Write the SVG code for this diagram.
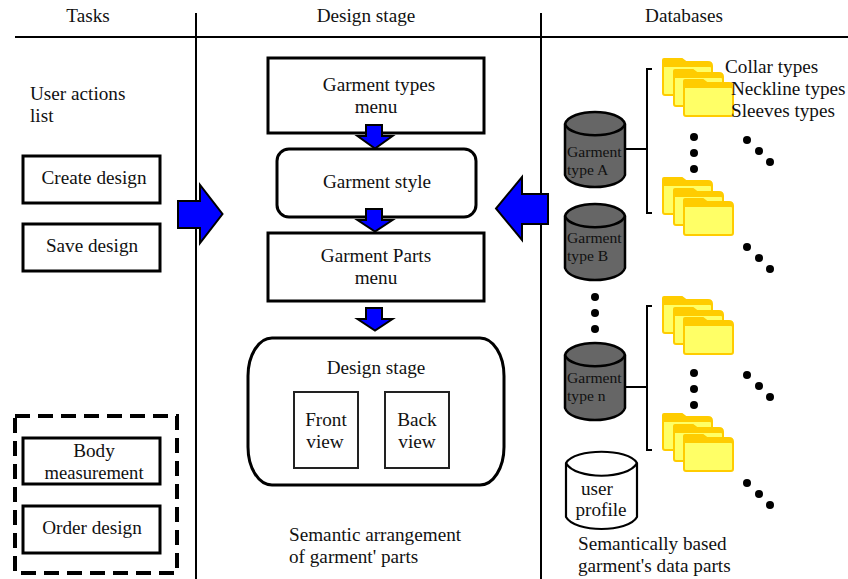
<svg xmlns="http://www.w3.org/2000/svg" xmlns:xlink="http://www.w3.org/1999/xlink" width="848" height="579" viewBox="0 0 848 579">
<style>
text{font-family:"Liberation Serif","Times New Roman",serif;font-size:19.2px;fill:#111;text-anchor:middle}
.s{font-size:15.6px;text-anchor:start}
.l{text-anchor:start}
.m{font-size:18.6px}
.b{fill:#fff;stroke:#000;stroke-width:3}
.v{fill:#fff;stroke:#222;stroke-width:2}
.a{fill:#00f;stroke:#000;stroke-width:2;stroke-linejoin:miter}
.ln{stroke:#000;stroke-width:2;fill:none}
.db{fill:#666;stroke:#000;stroke-width:2.5}
.dbw{fill:#fff;stroke:#000;stroke-width:2.2}
.f1{fill:#fc0;stroke:#fc0;stroke-width:2}
.f2{fill:#ff6;stroke:#fc0;stroke-width:2}
</style>
<defs>
<g id="folder">
<path class="f1" d="M1 12V2Q1 1 2 1H20L24 4H46Q50 4 50 8V14H1Z"/>
<path class="f2" d="M1 8H48Q50 8 50 10V35Q50 37 48 37H3Q1 37 1 35Z"/>
</g>
<g id="stack">
<use xlink:href="#folder" x="0" y="0"/>
<use xlink:href="#folder" x="11" y="11"/>
<use xlink:href="#folder" x="21" y="21"/>
</g>
<g id="d3"><circle cx="0" cy="0" r="4"/><circle cx="12" cy="11" r="4"/><circle cx="23" cy="22" r="4"/></g>
<g id="v3"><circle cx="0" cy="0" r="4"/><circle cx="0" cy="16" r="4"/><circle cx="0" cy="32" r="4"/></g>
</defs>
<g id="connectors">
<path class="ln" d="M15 37H848M196 13V579M541 13V579"/>
<path class="ln" d="M652 69H647V213H652M626 149H647M652 306H647V450H652M626 387H647"/>
</g>
<g fill="#000" id="dots">
<use xlink:href="#v3" x="694" y="137"/>
<use xlink:href="#d3" x="747" y="140"/>
<use xlink:href="#d3" x="747" y="247"/>
<use xlink:href="#v3" x="595" y="297"/>
<use xlink:href="#v3" x="694" y="373"/>
<use xlink:href="#d3" x="747" y="375"/>
<use xlink:href="#d3" x="747" y="483"/>
</g>
<g id="headers">
<text x="88" y="22">Tasks</text>
<text x="366" y="22">Design stage</text>
<text x="684" y="22">Databases</text>
<text x="30" y="100" class="l">User actions</text>
<text x="30" y="122" class="l">list</text>
<text x="289" y="541" class="l">Semantic arrangement</text>
<text x="289" y="563" class="l">of garment' parts</text>
<text x="578" y="550" class="l">Semantically based</text>
<text x="578" y="572" class="l">garment's data parts</text>
</g>
<g id="create"><rect class="b" x="23" y="156" width="137" height="47"/><text x="94" y="184">Create design</text></g>
<g id="save"><rect class="b" x="23" y="224" width="137" height="47"/><text x="92" y="252">Save design</text></g>
<g id="optional"><rect x="15" y="416" width="162" height="157" fill="none" stroke="#000" stroke-width="4" stroke-dasharray="15 8"/></g>
<g id="body"><rect class="b" x="23" y="438" width="137" height="46"/><text x="94" y="457">Body</text><text class="m" x="94" y="479">measurement</text></g>
<g id="order"><rect class="b" x="23" y="506" width="137" height="47"/><text x="92" y="534">Order design</text></g>
<g id="types"><rect class="b" x="268" y="58" width="216" height="75"/><text x="379" y="91">Garment types</text><text x="376" y="113">menu</text></g>
<g id="style"><rect class="b" x="277" y="149" width="199" height="68" rx="12"/><text x="377" y="188">Garment style</text></g>
<g id="parts"><rect class="b" x="268" y="233" width="216" height="68"/><text x="376" y="262">Garment Parts</text><text x="376" y="284">menu</text></g>
<g id="stage"><rect class="b" x="248" y="338" width="256" height="147" rx="24" ry="38"/><text x="376" y="374">Design stage</text></g>
<g id="front"><rect class="v" x="294" y="392" width="64" height="76"/><text x="326" y="426">Front</text><text x="325" y="448">view</text></g>
<g id="back"><rect class="v" x="385" y="392" width="64" height="76"/><text x="417" y="426">Back</text><text x="417" y="448">view</text></g>
<g id="arrows">
<path class="a" d="M366 125H382V136H392.500L375 148.500L357.500 136H366Z"/>
<path class="a" d="M366 209H382V220H392.500L375 231.500L357.500 220H366Z"/>
<path class="a" d="M366 308H382V319H392.500L375 330.500L357.500 319H366Z"/>
<path class="a" d="M178 201H200V185L222.500 214L200 243V228H178Z"/>
<path class="a" d="M548 194H522V177L496 208.500L522 240V224H548Z"/>
</g>
<g id="dbA"><path class="db" d="M565 124C570 108 620 108 625 124V175C620 191 570 191 565 175Z"/><path class="db" d="M565 124C570 139 620 139 625 124"/><text class="s" x="567" y="157">Garment</text><text class="s" x="567" y="175">type A</text></g>
<g id="dbB"><path class="db" d="M565 216C570 200 620 200 625 216V268C620 284 570 284 565 268Z"/><path class="db" d="M565 216C570 231 620 231 625 216"/><text class="s" x="567" y="243">Garment</text><text class="s" x="567" y="261">type B</text></g>
<g id="dbN"><path class="db" d="M565 355C570 339 620 339 625 355V408C620 424 570 424 565 408Z"/><path class="db" d="M565 355C570 370 620 370 625 355"/><text class="s" x="567" y="383">Garment</text><text class="s" x="567" y="401">type n</text></g>
<g id="profile"><path class="dbw" d="M566 463C575 448 628 448 637 463V517C628 533 575 533 566 517Z"/><path class="dbw" d="M566 463C575 480 628 480 637 463"/><text x="597" y="495">user</text><text x="601" y="516">profile</text></g>
<g id="folders">
<use xlink:href="#stack" x="662" y="58"/>
<use xlink:href="#stack" x="662" y="177"/>
<use xlink:href="#stack" x="662" y="296"/>
<use xlink:href="#stack" x="662" y="413"/>
</g>
<g id="folderLabels">
<text x="725" y="73" class="l">Collar types</text>
<text x="731" y="95" class="l">Neckline types</text>
<text x="731" y="117" class="l">Sleeves types</text>
</g>
</svg>
